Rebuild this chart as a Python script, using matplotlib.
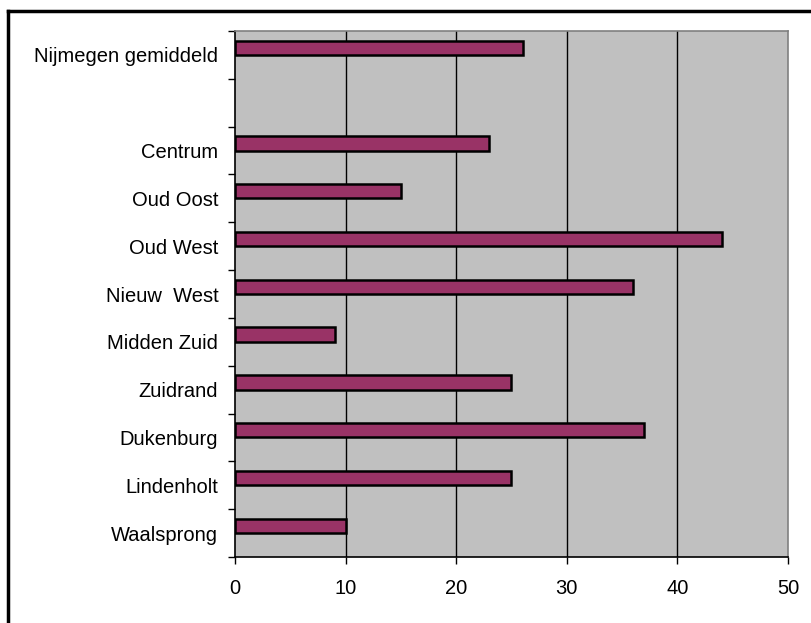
import matplotlib.pyplot as plt
from matplotlib.lines import Line2D
import numpy as np

# top to bottom, '' is the empty gap row
categories = ['Nijmegen gemiddeld', '', 'Centrum', 'Oud Oost', 'Oud West',
              'Nieuw  West', 'Midden Zuid', 'Zuidrand', 'Dukenburg',
              'Lindenholt', 'Waalsprong']
values = [26, np.nan, 23, 15, 44, 36, 9, 25, 37, 25, 10]
xticks = [0, 10, 20, 30, 40, 50]

plt.rcParams['font.family'] = ['Liberation Sans', 'DejaVu Sans']

fig = plt.figure(figsize=(8.11, 6.23), dpi=100)
ax = fig.add_axes([235 / 811, 66 / 623, 553 / 811, 526 / 623])
ax.set_facecolor('#c0c0c0')

n = len(categories)
pos = np.arange(n)[::-1]
ax.barh(pos, values, height=0.3, align='edge', color='#993366',
        edgecolor='black', linewidth=1.8, zorder=3)

ax.set_xlim(0, 50)
ax.set_ylim(-0.5, n - 0.5)
ax.set_xticks(xticks)
ax.set_xticklabels([str(t) for t in xticks])
ax.set_yticks(pos)
ax.set_yticklabels(categories)
ax.set_yticks(np.arange(n + 1) - 0.5, minor=True)
ax.tick_params(axis='y', which='major', length=0, pad=12, labelsize=14.5)
ax.tick_params(axis='y', which='minor', length=5, width=1, direction='out')
ax.tick_params(axis='x', length=5, width=1, direction='out', pad=11, labelsize=14.5)

for t in xticks[1:-1]:
  ax.axvline(t, color='black', linewidth=1, zorder=1)

ax.spines['left'].set_color('black')
ax.spines['bottom'].set_color('black')
ax.spines['top'].set_color('#808080')
ax.spines['right'].set_color('#808080')
for s in ax.spines.values():
  s.set_linewidth(1.2)

# outer frame (only left and top are visible)
fig.add_artist(Line2D([8 / 811, 8 / 811], [0, 1 - 11 / 623], color='black', linewidth=2.5))
fig.add_artist(Line2D([8 / 811, 1], [1 - 11 / 623, 1 - 11 / 623], color='black', linewidth=2.5))

plt.savefig('out.png', dpi=100)
